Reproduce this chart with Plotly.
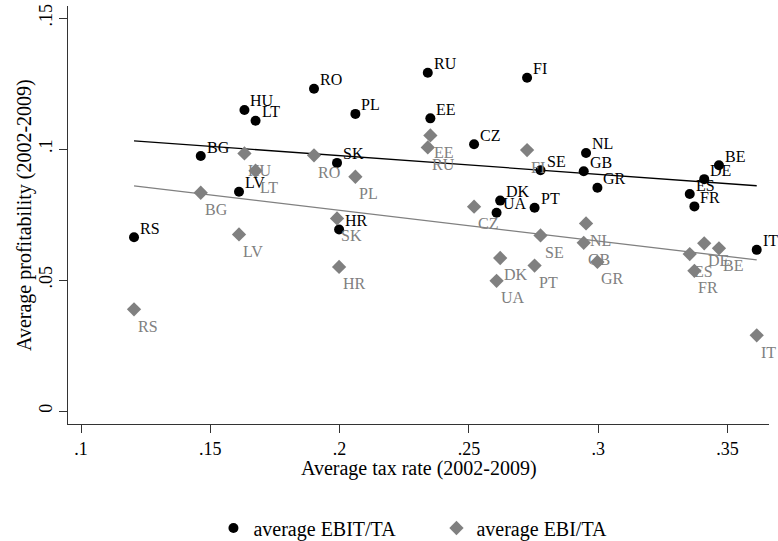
import numpy as np
import plotly.graph_objects as go

countries = ["RS", "BG", "LV", "HU", "LT", "RO", "SK", "HR", "PL", "RU", "EE", "CZ", "UA",
             "DK", "FI", "PT", "SE", "GB", "NL", "GR", "ES", "FR", "DE", "BE", "IT"]
tax_rate = [0.1205, 0.1463, 0.1611, 0.1632, 0.1675, 0.1901, 0.1990, 0.1998, 0.2061, 0.2341,
            0.2351, 0.2520, 0.2607, 0.2621, 0.2725, 0.2754, 0.2777, 0.2944, 0.2953, 0.2997,
            0.3354, 0.3372, 0.3410, 0.3467, 0.3613]
ebit_ta = [0.0663, 0.0973, 0.0837, 0.1149, 0.1108, 0.1230, 0.0947, 0.0693, 0.1134, 0.1291,
           0.1117, 0.1018, 0.0757, 0.0803, 0.1272, 0.0776, 0.0919, 0.0915, 0.0985, 0.0852,
           0.0828, 0.0781, 0.0885, 0.0938, 0.0615]
ebi_ta = [0.0388, 0.0833, 0.0674, 0.0983, 0.0917, 0.0976, 0.0735, 0.0550, 0.0894, 0.1006,
          0.1052, 0.0780, 0.0497, 0.0584, 0.0996, 0.0555, 0.0670, 0.0642, 0.0716, 0.0569,
          0.0599, 0.0535, 0.0640, 0.0621, 0.0289]

x_ticks = [0.1, 0.15, 0.2, 0.25, 0.3, 0.35]
x_tick_labels = [".1", ".15", ".2", ".25", ".3", ".35"]
y_ticks = [0, 0.05, 0.1, 0.15]
y_tick_labels = ["0", ".05", ".1", ".15"]

FONT = "Liberation Serif"
GRAY = "#808080"

x = np.array(tax_rate)
fig = go.Figure()

# linear fits
xs = np.array([x.min(), x.max()])
for ys, col in [(ebit_ta, "black"), (ebi_ta, GRAY)]:
    b, a = np.polyfit(x, np.array(ys), 1)
    fig.add_trace(go.Scatter(x=xs, y=a + b * xs, mode="lines",
                             line=dict(color=col, width=1.3),
                             showlegend=False, hoverinfo="skip", cliponaxis=False))

fig.add_trace(go.Scatter(x=tax_rate, y=ebit_ta, mode="markers", name="average EBIT/TA",
                         marker=dict(symbol="circle", size=10, color="black"),
                         cliponaxis=False))
fig.add_trace(go.Scatter(x=tax_rate, y=ebi_ta, mode="markers", name="average EBI/TA",
                         marker=dict(symbol="diamond", size=11, color=GRAY),
                         cliponaxis=False))

annotations = []
for c, xv, yv in zip(countries, tax_rate, ebit_ta):
    annotations.append(dict(x=xv, y=yv, text=c, showarrow=False, xanchor="left",
                            yanchor="middle", xshift=5, yshift=9, borderpad=0,
                            font=dict(family=FONT, size=16, color="black")))
for c, xv, yv in zip(countries, tax_rate, ebi_ta):
    annotations.append(dict(x=xv, y=yv, text=c, showarrow=False, xanchor="left",
                            yanchor="middle", xshift=3, yshift=-17, borderpad=0,
                            font=dict(family=FONT, size=16, color=GRAY)))
annotations.append(dict(xref="paper", yref="paper", x=0.5, y=0, yshift=-44,
                        xanchor="center", yanchor="middle", showarrow=False,
                        text="Average tax rate (2002-2009)",
                        font=dict(family=FONT, size=20, color="black")))
annotations.append(dict(xref="paper", yref="paper", x=0, y=0.5, xshift=-44,
                        xanchor="center", yanchor="middle", showarrow=False,
                        textangle=-90, text="Average profitability (2002-2009)",
                        font=dict(family=FONT, size=20, color="black")))

fig.update_layout(
    width=778, height=541,
    margin=dict(l=68, r=9, t=6, b=117, autoexpand=False),
    paper_bgcolor="white", plot_bgcolor="white",
    font=dict(family=FONT, size=18, color="black"),
    annotations=annotations,
    showlegend=True,
    legend=dict(orientation="h", xref="container", yref="container",
                x=0.561, xanchor="center", y=0.024, yanchor="middle",
                font=dict(family=FONT, size=20, color="black"),
                entrywidth=178, entrywidthmode="pixels", bgcolor="rgba(0,0,0,0)"),
    xaxis=dict(range=[0.09497, 0.36605], tickvals=x_ticks, ticktext=x_tick_labels,
               automargin=False,
               showgrid=False, zeroline=False, showline=True, linecolor="#333333",
               linewidth=1.2, ticks="outside", ticklen=8, tickcolor="#333333",
               tickfont=dict(family=FONT, size=18, color="black")),
    yaxis=dict(range=[-0.00496, 0.15458], tickvals=y_ticks, ticktext=y_tick_labels,
               automargin=False,
               showgrid=False, zeroline=False, showline=True, linecolor="#333333",
               linewidth=1.2, ticks="outside", ticklen=8, tickcolor="#333333",
               tickangle=-90,
               tickfont=dict(family=FONT, size=18, color="black")),
)

fig.write_html("out.html", config={"displayModeBar": False},
               post_script="document.body.style.margin='0';document.body.style.overflow='hidden';")
